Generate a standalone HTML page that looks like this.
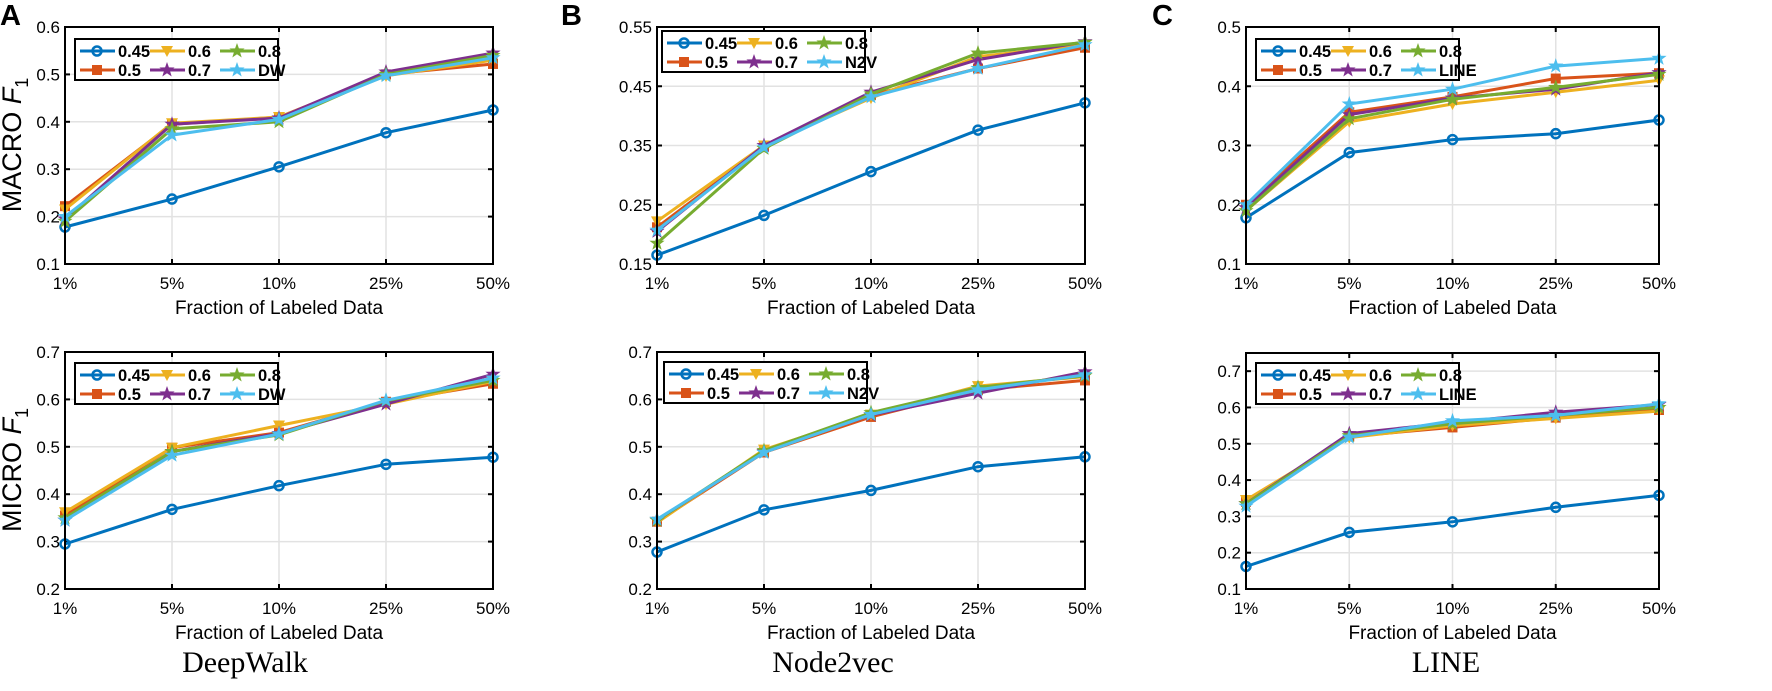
<!DOCTYPE html>
<html><head><meta charset="utf-8"><style>
html,body{margin:0;padding:0;background:#fff;}
svg{display:block;font-family:"Liberation Sans",Arial,sans-serif;}
</style></head><body>
<svg id="s" width="1772" height="691" viewBox="0 0 1772 691" xmlns="http://www.w3.org/2000/svg"></svg>
<script>
const C=["#0072BD","#D95319","#EDB120","#7E2F8E","#77AC30","#4DBEEE"];
const M=["o","s","v","p","p","p"];
const xl=["1%","5%","10%","25%","50%"];
const P=[
 {x0:65,x1:493,yt:27,yb:264,ymin:.1,ymax:.6,ticks:[.1,.2,.3,.4,.5,.6],lab:"DW",leg:[75,39],
  d:[[.178,.237,.305,.377,.425],[.222,.395,.41,.50,.522],[.215,.397,.41,.497,.53],[.195,.395,.408,.505,.545],[.19,.385,.40,.50,.54],[.20,.372,.405,.497,.535]]},
 {x0:657,x1:1085,yt:27,yb:264,ymin:.15,ymax:.55,ticks:[.15,.25,.35,.45,.55],lab:"N2V",leg:[662,31],dec:2,
  d:[[.165,.232,.306,.376,.422],[.212,.348,.435,.48,.515],[.222,.35,.43,.50,.52],[.205,.35,.44,.495,.525],[.185,.345,.437,.506,.524],[.207,.347,.432,.48,.52]]},
 {x0:1246,x1:1659,yt:27,yb:264,ymin:.1,ymax:.5,ticks:[.1,.2,.3,.4,.5],lab:"LINE",leg:[1256,39],
  d:[[.178,.288,.31,.32,.343],[.20,.356,.382,.413,.422],[.19,.34,.37,.39,.41],[.195,.352,.38,.395,.423],[.19,.345,.378,.398,.42],[.20,.37,.395,.434,.447]]},
 {x0:65,x1:493,yt:352,yb:589,ymin:.2,ymax:.7,ticks:[.2,.3,.4,.5,.6,.7],lab:"DW",leg:[75,363],
  d:[[.295,.368,.418,.463,.478],[.355,.498,.53,.595,.633],[.362,.498,.545,.59,.638],[.345,.49,.528,.59,.653],[.35,.49,.525,.597,.64],[.345,.482,.527,.598,.645]]},
 {x0:657,x1:1085,yt:352,yb:589,ymin:.2,ymax:.7,ticks:[.2,.3,.4,.5,.6,.7],lab:"N2V",leg:[664,362],
  d:[[.278,.367,.408,.458,.479],[.342,.488,.563,.62,.64],[.34,.494,.568,.628,.648],[.345,.49,.567,.613,.658],[.345,.492,.572,.625,.65],[.347,.488,.568,.62,.652]]},
 {x0:1246,x1:1659,yt:353,yb:589,ymin:.1,ymax:.75,ticks:[.1,.2,.3,.4,.5,.6,.7],lab:"LINE",leg:[1256,363],
  d:[[.162,.256,.285,.325,.358],[.34,.52,.545,.572,.593],[.345,.517,.55,.57,.59],[.335,.528,.558,.587,.608],[.335,.522,.555,.578,.60],[.328,.518,.563,.578,.61]]}
];
function star(cx,cy,r){let p=[];for(let i=0;i<10;i++){let a=-Math.PI/2+i*Math.PI/5;let rr=i%2?r*0.4:r;p.push((cx+rr*Math.cos(a)).toFixed(1)+","+(cy+rr*Math.sin(a)).toFixed(1));}return p.join(" ");}
function mk(t,x,y,c){
 if(t=="o")return `<circle cx="${x}" cy="${y}" r="4.5" fill="none" stroke="${c}" stroke-width="2.5"/>`;
 if(t=="s")return `<rect x="${x-4.5}" y="${y-4.5}" width="9" height="9" fill="${c}" stroke="${c}" stroke-width="1"/>`;
 if(t=="v")return `<polygon points="${x-6},${y-5} ${x+6},${y-5} ${x},${y+6}" fill="${c}"/>`;
 return `<polygon points="${star(x,y,8)}" fill="${c}"/>`;
}
let h="";
P.forEach(p=>{
 const X=i=>p.x0+(p.x1-p.x0)*i/4, Y=v=>p.yb-(v-p.ymin)/(p.ymax-p.ymin)*(p.yb-p.yt);
 for(let i=1;i<4;i++)h+=`<line x1="${X(i)}" y1="${p.yt}" x2="${X(i)}" y2="${p.yb}" stroke="#e2e2e2" stroke-width="1.5"/>`;
 p.ticks.forEach(t=>{let y=Y(t);h+=`<line x1="${p.x0}" y1="${y}" x2="${p.x1}" y2="${y}" stroke="#e2e2e2" stroke-width="1.5"/>`;
  h+=`<line x1="${p.x0}" y1="${y}" x2="${p.x0+5}" y2="${y}" stroke="#000" stroke-width="2"/><line x1="${p.x1}" y1="${y}" x2="${p.x1-5}" y2="${y}" stroke="#000" stroke-width="2"/>`;
  h+=`<text x="${p.x0-5}" y="${y+6}" font-size="17" text-anchor="end">${t.toFixed(p.dec||1)}</text>`;});
 for(let i=0;i<5;i++){h+=`<line x1="${X(i)}" y1="${p.yb}" x2="${X(i)}" y2="${p.yb-5}" stroke="#000" stroke-width="2"/><line x1="${X(i)}" y1="${p.yt}" x2="${X(i)}" y2="${p.yt+5}" stroke="#000" stroke-width="2"/>`;
  h+=`<text x="${X(i)}" y="${p.yb+25}" font-size="17" text-anchor="middle">${xl[i]}</text>`;}
 h+=`<text x="${(p.x0+p.x1)/2}" y="${p.yb+50}" font-size="19" text-anchor="middle">Fraction of Labeled Data</text>`;
 for(let s=0;s<6;s++){let pts=p.d[s].map((v,i)=>X(i)+","+Y(v).toFixed(1)).join(" ");
  h+=`<polyline points="${pts}" fill="none" stroke="${C[s]}" stroke-width="3"/>`;
  p.d[s].forEach((v,i)=>h+=mk(M[s],X(i),Y(v),C[s]));}
 h+=`<rect x="${p.x0}" y="${p.yt}" width="${p.x1-p.x0}" height="${p.yb-p.yt}" fill="none" stroke="#000" stroke-width="2"/>`;
 let [lx,ly]=p.leg;
 h+=`<rect x="${lx}" y="${ly}" width="203" height="41" fill="#fff" stroke="#000" stroke-width="2"/>`;
 const labs=["0.45","0.5","0.6","0.7","0.8",p.lab], pos=[[0,0],[0,1],[1,0],[1,1],[2,0],[2,1]];
 for(let s=0;s<6;s++){let [c,r]=pos[s];let x=lx+5+c*70,y=ly+12+r*19;
  h+=`<line x1="${x}" y1="${y}" x2="${x+35}" y2="${y}" stroke="${C[s]}" stroke-width="3"/>`+mk(M[s],x+17,y,C[s]);
  h+=`<text x="${x+38}" y="${y+6}" font-size="16.5" font-weight="bold">${labs[s]}</text>`;}
});
h+=`<text x="0" y="25" font-size="29" font-weight="bold">A</text><text x="561" y="25" font-size="29" font-weight="bold">B</text><text x="1152" y="25" font-size="29" font-weight="bold">C</text>`;
h+=`<text transform="translate(21,145) rotate(-90)" font-size="27" text-anchor="middle">MACRO  <tspan font-style="italic">F</tspan><tspan font-size="18" dy="7">1</tspan></text>`;
h+=`<text transform="translate(21,470) rotate(-90)" font-size="27" text-anchor="middle">MICRO  <tspan font-style="italic">F</tspan><tspan font-size="18" dy="7">1</tspan></text>`;
h+=`<g font-family="Liberation Serif,serif" font-size="30" text-anchor="middle"><text x="245" y="672">DeepWalk</text><text x="833" y="672">Node2vec</text><text x="1446" y="672">LINE</text></g>`;
document.getElementById("s").innerHTML=h;
</script>
</body></html>
